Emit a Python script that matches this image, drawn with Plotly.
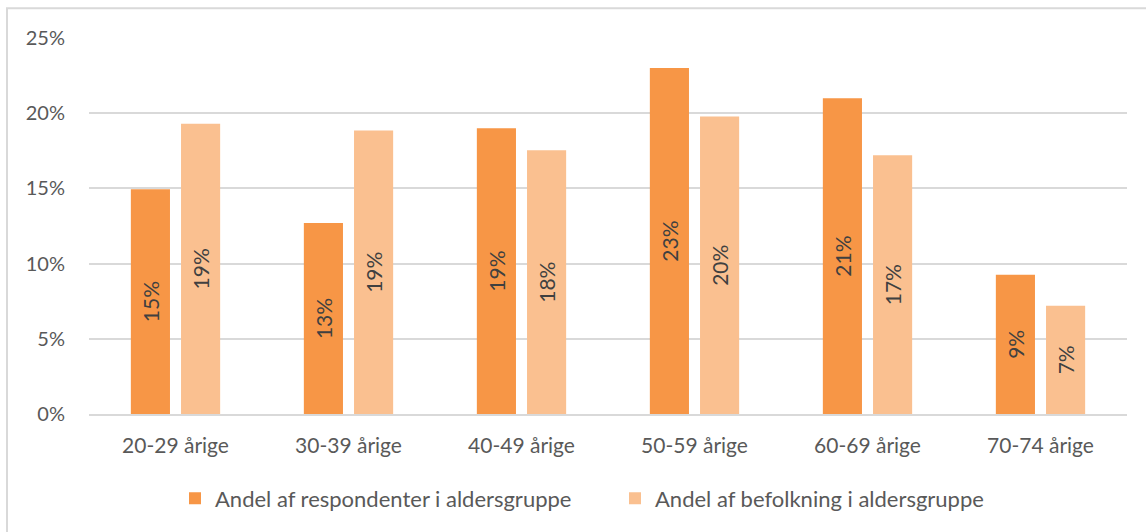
import plotly.graph_objects as go

categories = ["20-29 årige", "30-39 årige", "40-49 årige", "50-59 årige", "60-69 årige", "70-74 årige"]
respondenter = [0.1495, 0.127, 0.190, 0.230, 0.210, 0.0926]
befolkning = [0.193, 0.1885, 0.1753, 0.1978, 0.172, 0.072]
name_resp = "Andel af respondenter i aldersgruppe"
name_bef = "Andel af befolkning i aldersgruppe"
y_ticks = [0, 0.05, 0.10, 0.15, 0.20, 0.25]
y_tick_labels = ["0%", "5%", "10%", "15%", "20%", "25%"]

FONT = "Lato, 'Noto Sans', sans-serif"
TXT = "#595959"

fig = go.Figure()
for vals, name, col in [(respondenter, name_resp, "#F79646"), (befolkning, name_bef, "#FAC090")]:
    fig.add_trace(go.Bar(
        x=categories, y=vals, name=name,
        marker=dict(color=col, line=dict(width=0)),
        text=[f"{round(v*100):d}%" for v in vals],
        textposition="inside", insidetextanchor="middle", textangle=-90,
        constraintext="none",
        textfont=dict(family=FONT, size=21, color="#404040"),
        hoverinfo="skip",
    ))

W, H = 1146, 532
L, R, T, B = 89, 19, 38, 116
pw, ph = W - L - R, H - T - B

fig.update_layout(
    width=W, height=H,
    margin=dict(l=L, r=R, t=T, b=B),
    paper_bgcolor="white", plot_bgcolor="white",
    barmode="group", bargap=0.42, bargroupgap=0.22,
    font=dict(family=FONT, size=20, color=TXT),
    showlegend=True,
    legend=dict(orientation="h", x=(175 - L) / pw, xanchor="left",
                y=(H - B - 501) / ph, yanchor="middle",
                font=dict(family=FONT, size=22, color=TXT),
                entrywidth=395, entrywidthmode="pixels",
                traceorder="normal"),
    xaxis=dict(showgrid=False, showline=True, linecolor="#D9D9D9", linewidth=2,
               ticks="", ticklabelstandoff=12,
               tickfont=dict(family=FONT, size=21, color=TXT)),
    yaxis=dict(range=[0, 0.25], tickvals=y_ticks, ticktext=y_tick_labels,
               showgrid=True, gridcolor="#D9D9D9", gridwidth=2, zeroline=False,
               showline=False, ticks="", ticklabelstandoff=23,
               tickfont=dict(family=FONT, size=20, color=TXT)),
    shapes=[dict(type="rect", xref="paper", yref="paper",
                 x0=(7 - L) / pw, x1=(W + 10 - L) / pw,
                 y0=-(B + 10) / ph, y1=1 + (T - 8) / ph,
                 line=dict(color="#D9D9D9", width=2), fillcolor="rgba(0,0,0,0)", layer="below")],
)

fig.write_html("out.html")
